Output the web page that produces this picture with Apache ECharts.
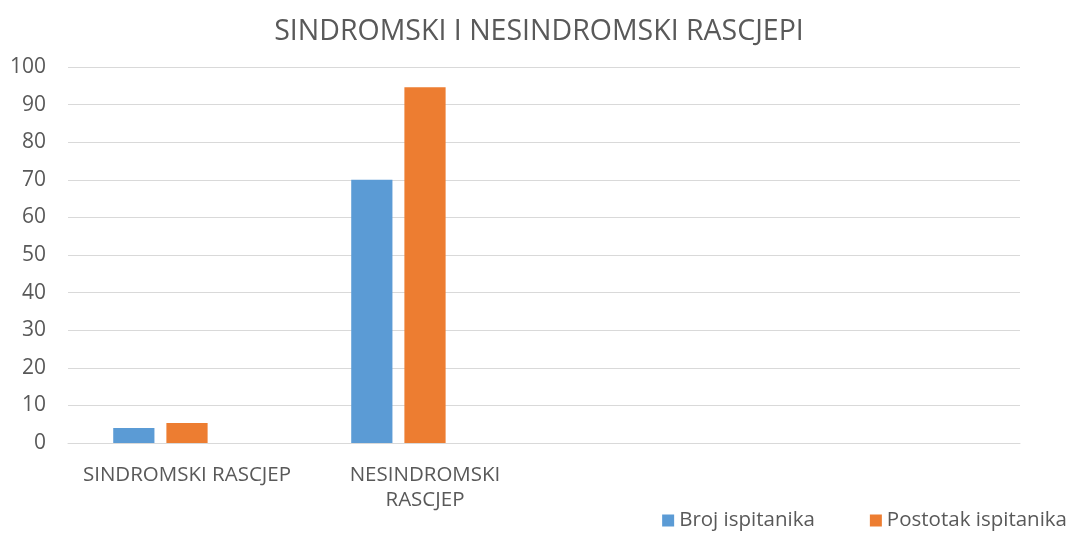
<!DOCTYPE html>
<html>
<head>
<meta charset="utf-8">
<script src="https://cdn.jsdelivr.net/npm/echarts@6/dist/echarts.min.js"></script>
<style>
  html, body { margin: 0; padding: 0; background: #fff; }
  #chart { width: 1078px; height: 556px; }
</style>
</head>
<body>
<div id="chart"></div>
<script>
  // kategorije i vrijednosti
  var categories = ['SINDROMSKI RASCJEP', 'NESINDROMSKI\nRASCJEP', ' ', '  '];
  var seriesNames = ['Broj ispitanika', 'Postotak ispitanika'];
  var brojIspitanika = [4, 70, null, null];
  var postotakIspitanika = [5.3, 94.6, null, null];
  var prazno = [null, null, null, null];

  var font = '"Open Sans", Lato, sans-serif';
  var chart = echarts.init(document.getElementById('chart'));
  chart.setOption({
    animation: false,
    color: ['#5b9bd5', '#ed7d31', '#a5a5a5'],
    title: {
      text: 'SINDROMSKI I NESINDROMSKI RASCJEPI',
      left: 'center',
      top: 12,
      textStyle: { fontFamily: font, fontSize: 28.5, fontWeight: 'normal', color: '#595959' }
    },
    legend: {
      data: seriesNames,
      right: 6,
      top: 505,
      itemWidth: 12,
      itemHeight: 12,
      itemGap: 55,
      icon: 'rect',
      textStyle: { fontFamily: font, fontSize: 20.5, color: '#595959' }
    },
    grid: { left: 68, right: 58, top: 67, bottom: 113 },
    xAxis: {
      type: 'category',
      data: categories,
      axisLine: { show: true, lineStyle: { color: '#d9d9d9', width: 1 } },
      axisTick: { show: false },
      axisLabel: { interval: 0, hideOverlap: false, fontFamily: font, fontSize: 20.5, color: '#595959', margin: 20, lineHeight: 25 }
    },
    yAxis: {
      type: 'value',
      min: 0,
      max: 100,
      interval: 10,
      axisLine: { show: false },
      axisTick: { show: false },
      splitLine: { lineStyle: { color: '#d9d9d9', width: 1 } },
      axisLabel: { fontFamily: font, fontSize: 21, color: '#595959', margin: 22 }
    },
    series: [
      { name: seriesNames[0], type: 'bar', data: brojIspitanika, barGap: '29%', barCategoryGap: '38%' },
      { name: seriesNames[1], type: 'bar', data: postotakIspitanika },
      { name: 'prazno', type: 'bar', data: prazno }
    ]
  });
</script>
</body>
</html>
